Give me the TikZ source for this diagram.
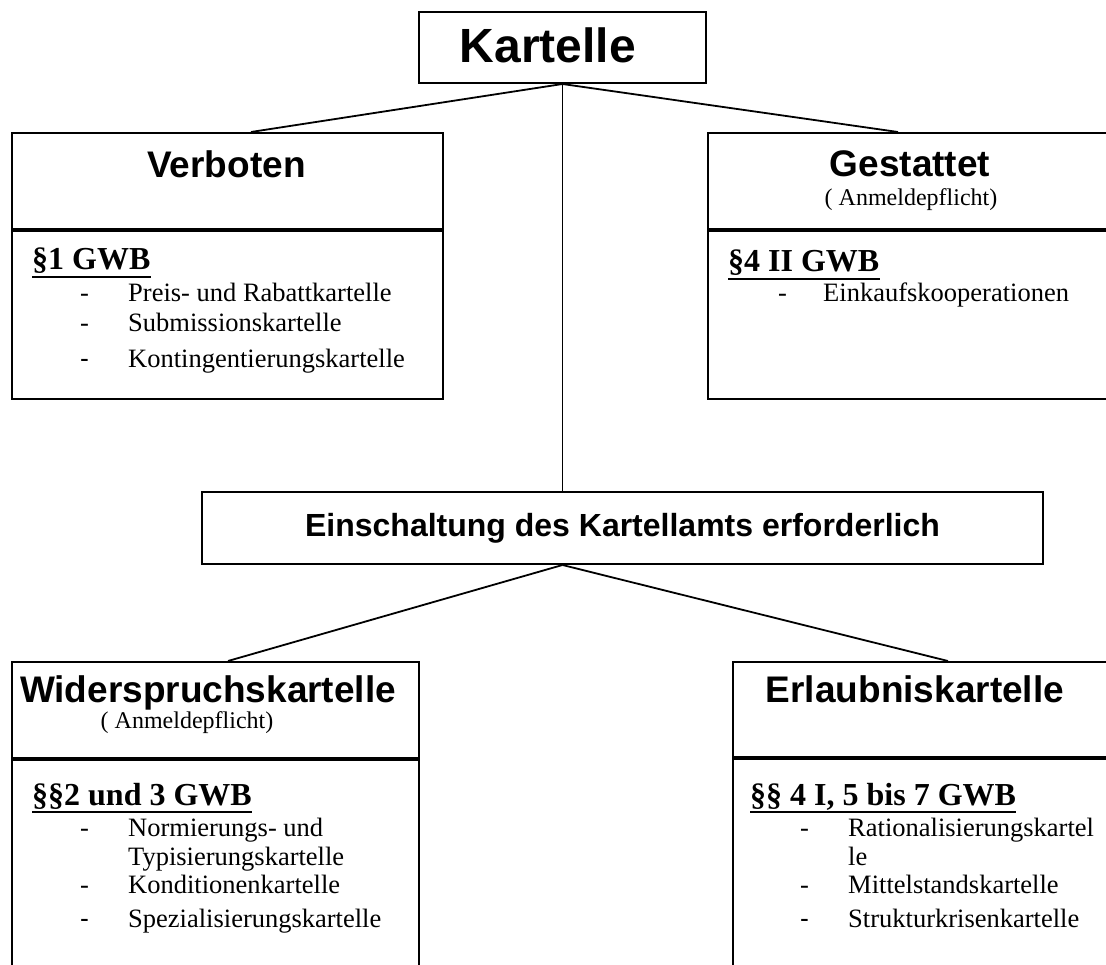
\documentclass[tikz,border=0pt]{standalone}
\usepackage{fontspec}
\setmainfont{Liberation Serif}
\setsansfont{Liberation Sans}
\usetikzlibrary{positioning}
\newcommand{\topfont}{\sffamily\bfseries\fontsize{48}{52}\selectfont}
\newcommand{\midfont}{\sffamily\bfseries\fontsize{32}{36}\selectfont}
\newcommand{\titlefont}{\sffamily\bfseries\fontsize{37}{40}\selectfont}
\newcommand{\notefont}{\rmfamily\fontsize{24}{28}\selectfont}
\newcommand{\lawfont}{\rmfamily\bfseries\fontsize{32}{36}\selectfont}
\newcommand{\entryfont}{\rmfamily\fontsize{26.5}{30}\selectfont}
\newcommand{\sansdash}{{\sffamily -}}

\begin{document}
\begin{tikzpicture}[x=1pt,y=-1pt,
  frame/.style={draw,line width=2pt,inner sep=0pt},
  link/.style={line width=1.8pt},
  title/.style={font=\titlefont,anchor=base,inner sep=0pt},
  note/.style={font=\notefont,anchor=base,inner sep=0pt},
  law/.style={font=\lawfont,anchor=base west,inner sep=0pt},
  entry/.style={font=\entryfont,anchor=base west,inner sep=0pt}]
  \useasboundingbox (0,0) rectangle (1106,965);
  \clip (0,0) rectangle (1106,965);

  % top and middle boxes
  \node[frame,minimum width=287pt,minimum height=71pt] (kart) at (562.5,47.5) {};
  \node[font=\topfont,anchor=base,inner sep=0pt] (kartT) at (548,63) {Kartelle};
  \node[frame,minimum width=841pt,minimum height=72pt,font=\midfont] (ein) at (622.5,528) {Einschaltung des Kartellamts erforderlich};

  % two-part boxes (head + body)
  \node[frame,anchor=north west,minimum width=431pt,minimum height=96pt] (verbTop) at (11,132) {};
  \node[frame,below=0pt of verbTop,minimum width=431pt,minimum height=168pt] (verbBody) {};
  \node[frame,anchor=north west,minimum width=406pt,minimum height=96pt] (gestTop) at (707,132) {};
  \node[frame,below=0pt of gestTop,minimum width=406pt,minimum height=168pt] (gestBody) {};
  \node[frame,anchor=north west,minimum width=407pt,minimum height=96pt] (widTop) at (11,661) {};
  \node[frame,below=0pt of widTop,minimum width=407pt,minimum height=240pt] (widBody) {};
  \node[frame,anchor=north west,minimum width=390pt,minimum height=95pt] (erlTop) at (732,661) {};
  \node[frame,below=0pt of erlTop,minimum width=390pt,minimum height=240pt] (erlBody) {};

  % connectors
  \draw[link] (kart.south) -- ([xshift=23.5pt]verbTop.north);
  \draw[link] (kart.south) -- ([xshift=-13pt]gestTop.north);
  \draw[link] (kart.south) -- (kart.south |- ein.north);
  \draw[link] (kart.south |- ein.south) -- ([xshift=12.5pt]widTop.north);
  \draw[link] (kart.south |- ein.south) -- ([xshift=20pt]erlTop.north);

  % headings
  \node[title] (verbT) at (226.5,178) {Verboten};
  \node[title] (gestT) at (910,177) {Gestattet};
  \node[note] (gestN) at (911,206) {( Anmeldepflicht)};
  \node[title] (widT) at (208,702) {Widerspruchskartelle};
  \node[note] (widN) at (187,728) {( Anmeldepflicht)};
  \node[title] (erlT) at (915,702) {Erlaubniskartelle};

  % legal basis, underlined
  \node[law] (verbL) at (32,270) {§1 GWB};
  \node[law] (gestL) at (728,272) {§4 II GWB};
  \node[law] (widL) at (32,805) {§§2 und 3 GWB};
  \node[law] (erlL) at (750,805) {§§ 4 I, 5 bis 7 GWB};
  \foreach \n in {verbL,gestL,widL,erlL}
    \draw[line width=2.5pt] ([yshift=-7pt]\n.base west) -- ([yshift=-7pt]\n.base east);

  % Verboten
  \foreach \yy/\txt [count=\k] in {302/Preis- und Rabattkartelle,332/Submissionskartelle,368/Kontingentierungskartelle}
    \node[entry] (verbE\k) at (128,\yy) {\txt};
  \node[entry] (verbD1) at (80,302) {-};
  \node[entry] (verbD2) at (80,332) {-};
  \node[entry] (verbD3) at (80,368) {\sansdash};

  % Gestattet
  \node[entry] (gestD1) at (778,302) {-};
  \node[entry] (gestE1) at (823,302) {Einkaufskooperationen};

  % Widerspruchskartelle
  \foreach \yy/\txt [count=\k] in {836/Normierungs- und,865/Typisierungskartelle,893/Konditionenkartelle,927/Spezialisierungskartelle}
    \node[entry] (widE\k) at (128,\yy) {\txt};
  \node[entry] (widD1) at (80,836) {-};
  \node[entry] (widD2) at (80,893) {-};
  \node[entry] (widD3) at (80,927) {\sansdash};

  % Erlaubniskartelle
  \foreach \yy/\txt [count=\k] in {836/Rationalisierungskartel,865/le,893/Mittelstandskartelle,927/Strukturkrisenkartelle}
    \node[entry] (erlE\k) at (848,\yy) {\txt};
  \node[entry] (erlD1) at (800,836) {-};
  \node[entry] (erlD2) at (800,893) {-};
  \node[entry] (erlD3) at (800,927) {\sansdash};
\end{tikzpicture}
\end{document}
